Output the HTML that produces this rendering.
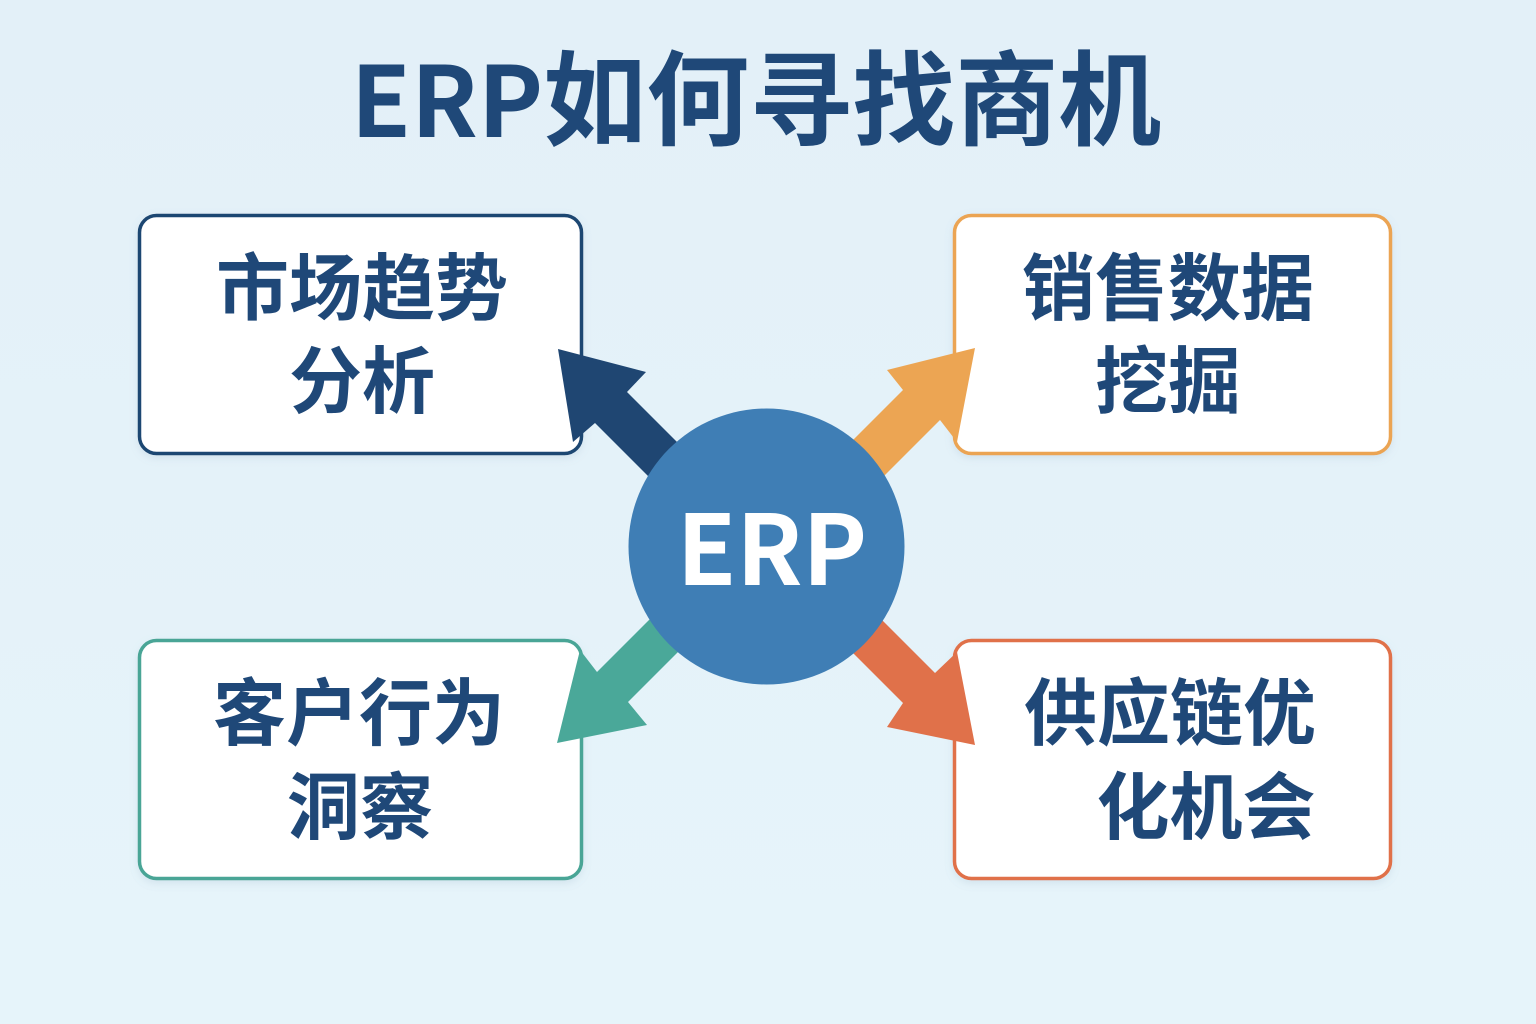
<!DOCTYPE html>
<html>
<head>
<meta charset="utf-8">
<style>
html,body{margin:0;padding:0;width:1536px;height:1024px;overflow:hidden;background:#e5f2f9;}
svg{display:block;}
text{font-family:"Noto Sans CJK SC","Liberation Sans",sans-serif;font-weight:700;}
</style>
</head>
<body>
<svg width="1536" height="1024" viewBox="0 0 1536 1024" xmlns="http://www.w3.org/2000/svg">
  <defs>
    <linearGradient id="bg" x1="0" y1="0" x2="0" y2="1">
      <stop offset="0" stop-color="#e3f0f8"/>
      <stop offset="1" stop-color="#e6f4fa"/>
    </linearGradient>
    <filter id="sh" x="-10%" y="-10%" width="120%" height="130%">
      <feDropShadow dx="0" dy="3" stdDeviation="4" flood-color="#7a9ab5" flood-opacity="0.18"/>
    </filter>
  </defs>
  <rect x="0" y="0" width="1536" height="1024" fill="url(#bg)"/>

  <!-- Title -->
  <text x="756" y="137" font-size="103" fill="#1f4878" text-anchor="middle"><tspan font-size="98">ERP</tspan>如何寻找商机</text>

  <!-- Boxes -->
  <rect x="139.5" y="215.5" width="442" height="238" rx="17" fill="#ffffff" stroke="#1f4672" stroke-width="3.5" filter="url(#sh)"/>
  <rect x="954.5" y="215.5" width="436" height="238" rx="17" fill="#ffffff" stroke="#eba453" stroke-width="3.5" filter="url(#sh)"/>
  <rect x="139.5" y="640.5" width="442" height="238" rx="17" fill="#ffffff" stroke="#4aa596" stroke-width="3.5" filter="url(#sh)"/>
  <rect x="954.5" y="640.5" width="436" height="238" rx="17" fill="#ffffff" stroke="#e0714a" stroke-width="3.5" filter="url(#sh)"/>

  <!-- Box texts -->
  <g font-size="73" fill="#1f4878" text-anchor="middle">
    <text x="362" y="314">市场趋势</text>
    <text x="362" y="407">分析</text>
    <text x="1168" y="314">销售数据</text>
    <text x="1168" y="407">挖掘</text>
    <text x="359" y="739">客户行为</text>
    <text x="360" y="833">洞察</text>
    <text x="1170" y="739">供应链优</text>
    <text x="1206" y="833">化机会</text>
  </g>

  <!-- Arrows -->
  <polygon fill="#1f4672" points="558,349 646,372 627,392 687,452 655,483 595,423 573,442"/>
  <polygon fill="#eca553" points="975,348 887,370 903,390 843,450 880,480 940,420 957,442"/>
  <polygon fill="#4aa899" points="557,743 647,725 628,702 688,642 657,612 597,672 580,650"/>
  <polygon fill="#e0714a" points="975,745 887,727 903,703 843,643 875,613 935,673 957,652"/>

  <!-- Center circle -->
  <circle cx="766.5" cy="546.5" r="138" fill="#3f7eb5"/>
  <text x="772" y="585" font-size="97" fill="#ffffff" text-anchor="middle">ERP</text>
</svg>
</body>
</html>
